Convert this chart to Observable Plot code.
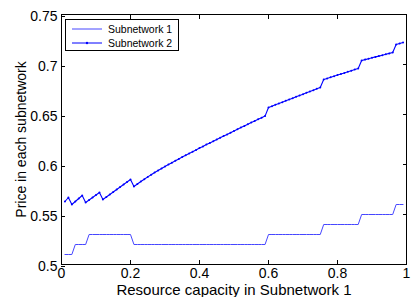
<!DOCTYPE html>
<html>
<head>
<meta charset="utf-8">
<script src="https://cdn.jsdelivr.net/npm/d3@7"></script>
<script src="https://cdn.jsdelivr.net/npm/@observablehq/plot@0.6"></script>
<style>
  html, body { margin: 0; padding: 0; background: #fff; }
  #wrap { position: relative; width: 412px; height: 297px; overflow: hidden; }
  #legend { position: absolute; left: 65px; top: 19px; width: 112px; height: 30px;
    border: 1px solid #000; background: #fff; font-family: "Liberation Sans", Arial, sans-serif;
    font-size: 10.5px; color: #000; }
  #legend .row { position: absolute; left: 0; height: 12px; display: flex; align-items: center; }
  #legend svg { display: block; }
</style>
</head>
<body>
<div id="wrap"></div>
<script>
const xs = [0.01,0.02,0.03,0.04,0.05,0.06,0.07,0.08,0.09,0.10,
  0.11,0.12,0.13,0.14,0.15,0.16,0.17,0.18,0.19,0.20,
  0.21,0.22,0.23,0.24,0.25,0.26,0.27,0.28,0.29,0.30,
  0.31,0.32,0.33,0.34,0.35,0.36,0.37,0.38,0.39,0.40,
  0.41,0.42,0.43,0.44,0.45,0.46,0.47,0.48,0.49,0.50,
  0.51,0.52,0.53,0.54,0.55,0.56,0.57,0.58,0.59,0.60,
  0.61,0.62,0.63,0.64,0.65,0.66,0.67,0.68,0.69,0.70,
  0.71,0.72,0.73,0.74,0.75,0.76,0.77,0.78,0.79,0.80,
  0.81,0.82,0.83,0.84,0.85,0.86,0.87,0.88,0.89,0.90,
  0.91,0.92,0.93,0.94,0.95,0.96,0.97,0.98,0.99];

const subnetwork1 = [0.51,0.51,0.51,0.52,0.52,0.52,0.52,0.53,0.53,0.53,
  0.53,0.53,0.53,0.53,0.53,0.53,0.53,0.53,0.53,0.53,
  0.52,0.52,0.52,0.52,0.52,0.52,0.52,0.52,0.52,0.52,
  0.52,0.52,0.52,0.52,0.52,0.52,0.52,0.52,0.52,0.52,
  0.52,0.52,0.52,0.52,0.52,0.52,0.52,0.52,0.52,0.52,
  0.52,0.52,0.52,0.52,0.52,0.52,0.52,0.52,0.52,0.53,
  0.53,0.53,0.53,0.53,0.53,0.53,0.53,0.53,0.53,0.53,
  0.53,0.53,0.53,0.53,0.53,0.54,0.54,0.54,0.54,0.54,
  0.54,0.54,0.54,0.54,0.54,0.54,0.55,0.55,0.55,0.55,
  0.55,0.55,0.55,0.55,0.55,0.55,0.56,0.56,0.56];

const subnetwork2 = [0.563,0.567,0.560,0.563,0.566,0.569,0.562,0.5645,0.567,0.5695,
  0.572,0.565,0.5675,0.570,0.5725,0.575,0.5775,0.580,0.5825,0.585,
  0.578,0.5805,0.583,0.5853,0.5876,0.5898,0.592,0.594,0.596,0.598,
  0.5999,0.6018,0.6037,0.6056,0.6074,0.6092,0.611,0.6128,0.6146,0.6164,
  0.6181,0.6199,0.6216,0.6233,0.625,0.6267,0.6284,0.6301,0.6318,0.6335,
  0.6352,0.6369,0.6386,0.6403,0.642,0.6436,0.6452,0.6468,0.6484,0.657,
  0.6583,0.6597,0.661,0.6623,0.6637,0.665,0.6663,0.6677,0.669,0.6703,
  0.6717,0.673,0.6743,0.6757,0.677,0.685,0.6861,0.6872,0.6883,0.6894,
  0.6905,0.6916,0.6927,0.6938,0.6949,0.696,0.704,0.7049,0.7058,0.7067,
  0.7076,0.7084,0.7093,0.7102,0.7111,0.712,0.720,0.721,0.722];

const xTicks = [0, 0.2, 0.4, 0.6, 0.8, 1];
const xTickLabels = ["0", "0.2", "0.4", "0.6", "0.8", "1"];
const yTicks = [0.5, 0.55, 0.6, 0.65, 0.7, 0.75];
const yTickLabels = ["0.5", "0.55", "0.6", "0.65", "0.7", "0.75"];
const seriesNames = ["Subnetwork 1", "Subnetwork 2"];
const xLabel = "Resource capacity in Subnetwork 1";
const yLabel = "Price in each subnetwork";
const colors = ["#4646ff", "#0000ff"];

const d1 = xs.map((x, i) => ({x, y: subnetwork1[i]}));
const d2 = xs.map((x, i) => ({x, y: subnetwork2[i]}));

const chart = Plot.plot({
  width: 412,
  height: 297,
  marginLeft: 61,
  marginRight: 6,
  marginTop: 14,
  marginBottom: 33,
  style: {fontFamily: "'Liberation Sans', Arial, sans-serif", fontSize: "14px", background: "#fff", color: "#000"},
  x: {domain: [0, 1], axis: null},
  y: {domain: [0.5, 0.75], axis: null},
  marks: [
    Plot.line(d1, {x: "x", y: "y", stroke: colors[0], strokeWidth: 1}),
    Plot.line(d2, {x: "x", y: "y", stroke: colors[1], strokeWidth: 1.1}),
    Plot.dot(d2, {x: "x", y: "y", r: 1, fill: colors[1], stroke: null}),
    Plot.frame({stroke: "#000", strokeWidth: 1}),
    Plot.axisX({anchor: "bottom", ticks: xTicks, tickSize: -4, tickPadding: 8,
      tickFormat: (d, i) => xTickLabels[i], fontSize: 14, label: null}),
    Plot.axisX({anchor: "top", ticks: xTicks, tickSize: -4, tickFormat: () => "", label: null}),
    Plot.text([xLabel], {frameAnchor: "bottom", text: d => d, dy: 30, lineAnchor: "bottom",
      fontSize: 15, fill: "#000"}),
    Plot.axisY({anchor: "left", ticks: yTicks, tickSize: -4, tickPadding: 8,
      tickFormat: (d, i) => yTickLabels[i], fontSize: 14, dy: 2,
      label: yLabel, labelAnchor: "center", labelArrow: "none", labelOffset: 45}),
    Plot.axisY({anchor: "right", ticks: yTicks, tickSize: -4, tickFormat: () => "", label: null})
  ]
});

const wrap = document.getElementById("wrap");
wrap.appendChild(chart);

const legend = document.createElement("div");
legend.id = "legend";
seriesNames.forEach((name, i) => {
  const row = document.createElement("div");
  row.className = "row";
  row.style.top = (i === 0 ? 3 : 17) + "px";
  const sw = `<svg width="42" height="12"><line x1="6" x2="36" y1="6" y2="6" stroke="${colors[i]}" stroke-width="1"/>` +
    (i === 1 ? `<circle cx="21" cy="6" r="1.2" fill="${colors[i]}"/>` : "") + `</svg>`;
  row.innerHTML = sw + `<span>${name}</span>`;
  legend.appendChild(row);
});
wrap.appendChild(legend);
</script>
</body>
</html>
